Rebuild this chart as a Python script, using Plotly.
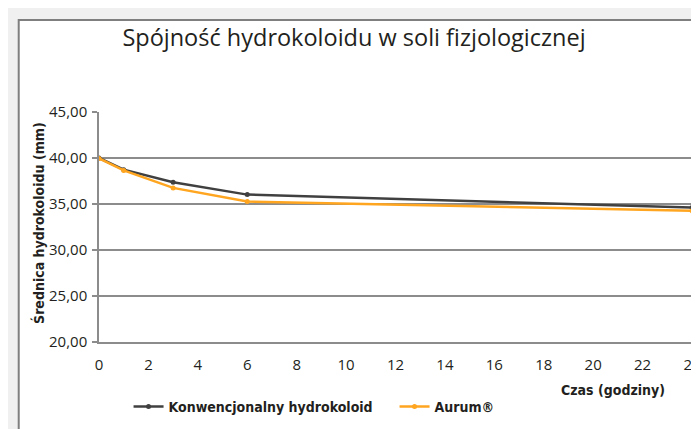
import plotly.graph_objects as go

hours = [0, 1, 3, 6, 24]
konwencjonalny = [40.0, 38.73, 37.36, 36.02, 34.62]
aurum = [39.95, 38.65, 36.75, 35.27, 34.26]
series_names = ["Konwencjonalny hydrokoloid", "Aurum®"]
y_ticks = [20, 25, 30, 35, 40, 45]
x_ticks = list(range(0, 25, 2))

W, H = 699, 429
L, R, T, B = 91, 6, 104, 95
pw, ph = W - L - R, H - T - B

def px(x):
    return (x - L) / pw

def py(y):
    return (H - B - y) / ph

BOLD = "DejaVu Sans Condensed, Roboto, sans-serif"

fig = go.Figure()
fig.add_trace(go.Scatter(x=hours, y=konwencjonalny, name=series_names[0], mode="lines+markers",
                         line=dict(color="#404040", width=2.5), marker=dict(size=5, color="#404040")))
fig.add_trace(go.Scatter(x=hours, y=aurum, name=series_names[1], mode="lines+markers",
                         line=dict(color="#FFA51F", width=2.5), marker=dict(size=5, color="#FFA51F")))

fig.update_layout(
    width=W, height=H,
    margin=dict(l=L, r=R, t=T, b=B),
    paper_bgcolor="#f0f0f0",
    plot_bgcolor="rgba(0,0,0,0)",
    separators=", ",
    font=dict(family="Open Sans", color="#231f20", size=14),
    title=dict(text="Spójność hydrokoloidu w soli fizjologicznej", x=346 / W, xanchor="center",
               y=1 - 30 / H, yanchor="middle", font=dict(size=23.5, color="#231f20")),
    showlegend=True,
    legend=dict(orientation="h", x=px(121), xanchor="left", y=py(399), yanchor="middle",
                entrywidth=221, entrywidthmode="pixels",
                font=dict(family=BOLD, size=14, color="#231f20", weight="bold"),
                bgcolor="rgba(0,0,0,0)"),
    shapes=[dict(type="rect", xref="paper", yref="paper", layer="below",
                 x0=px(9.5), x1=px(710), y0=py(440), y1=py(12),
                 fillcolor="white", line=dict(color="#7f7f7f", width=2))],
    annotations=[
        dict(text="Średnica hydrokoloidu (mm)", xref="paper", yref="paper", x=px(29), y=py(215),
             xanchor="center", yanchor="middle", textangle=-90, showarrow=False,
             font=dict(family=BOLD, size=14, color="#231f20", weight="bold")),
        dict(text="Czas (godziny)", xref="paper", yref="paper", x=px(668), y=py(382),
             xanchor="right", yanchor="middle", showarrow=False,
             font=dict(family=BOLD, size=14, color="#231f20", weight="bold")),
    ],
)
fig.update_xaxes(range=[0, 24], tickvals=x_ticks, showgrid=False, zeroline=False,
                 showline=True, linecolor="#8c8c8c", linewidth=1.5, ticks="",
                 ticklabelstandoff=8, ticklabeloverflow="allow",
                 tickfont=dict(size=15, color="#231f20"))
fig.update_yaxes(range=[20, 45], tickvals=y_ticks, tickformat=".2f", showgrid=True,
                 gridcolor="#8c8c8c", gridwidth=1.5, zeroline=False,
                 showline=True, linecolor="#8c8c8c", linewidth=1.5,
                 ticks="outside", ticklen=5, tickcolor="#8c8c8c", tickwidth=1.5,
                 ticklabelstandoff=2, tickfont=dict(size=15, color="#231f20"))

fig.write_html("out.html")
